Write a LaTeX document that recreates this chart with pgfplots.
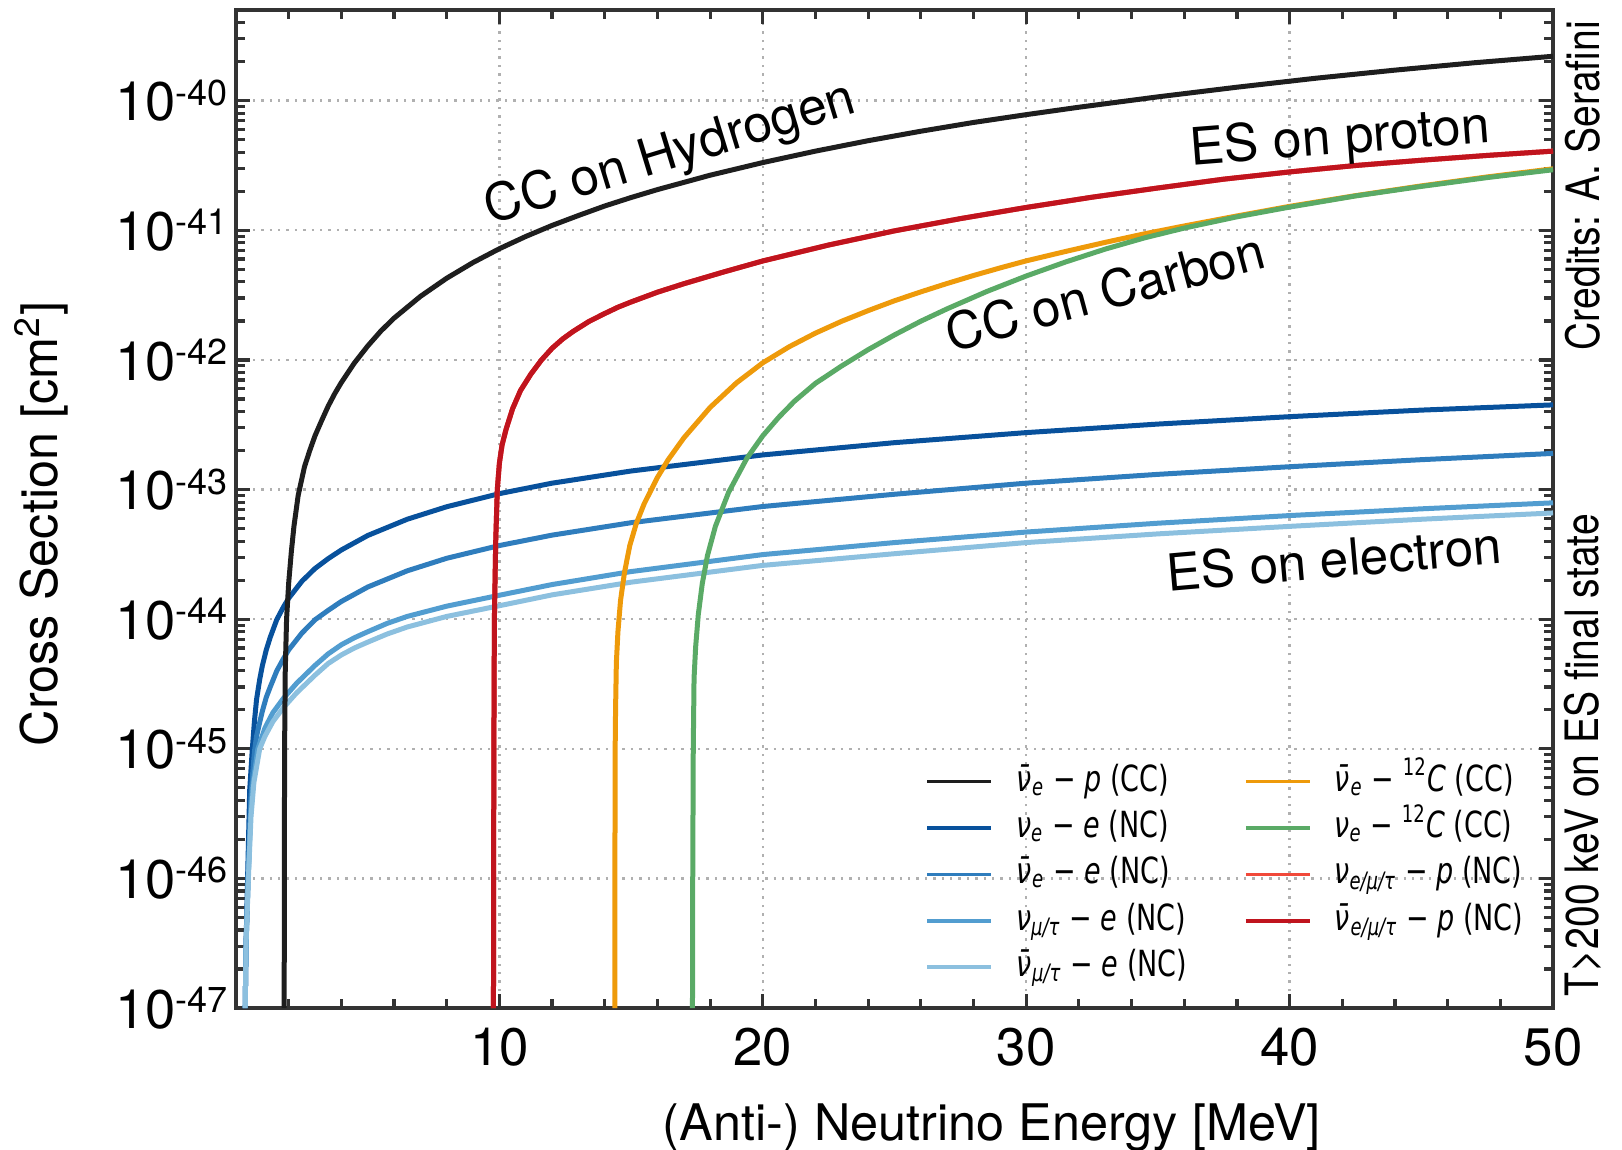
\documentclass[border=0pt]{standalone}
\usepackage{fontspec}
\setmainfont{TeX Gyre Heros}
\newfontfamily\djv{DejaVu Sans}
\usepackage{pgfplots}
\pgfplotsset{compat=1.18}

\definecolor{axgray}{HTML}{333333}
\definecolor{gridgray}{HTML}{B0B0B0}
\definecolor{cblack}{HTML}{1E1E1E}
\definecolor{bdark}{HTML}{08519C}
\definecolor{bmid}{HTML}{2F7DBD}
\definecolor{blight}{HTML}{529DD0}
\definecolor{blighter}{HTML}{8CC0DF}
\definecolor{corange}{HTML}{EE9A0A}
\definecolor{cgreen}{HTML}{5AAA66}
\definecolor{redlight}{HTML}{F1493A}
\definecolor{reddark}{HTML}{C0141E}

\newcommand{\tfont}{\fontsize{13.2}{15}\selectfont}
\newcommand{\xlab}[1]{\mbox{\tfont #1}}
\newcommand{\ylab}[1]{\mbox{\fontsize{13.6}{15}\selectfont 10\raisebox{3.9pt}{\fontsize{9}{10}\selectfont -#1}}}
\newcommand{\lgi}[1]{\textit{#1}}
\newcommand{\lgs}[1]{\scalebox{0.75}[1]{#1}}

\begin{document}
\begin{tikzpicture}
\begin{axis}[
  name=ax,
  scale only axis,
  width=329.25pt, height=249.5pt,
  clip mode=individual,
  xmin=0, xmax=50,
  ymode=log, ymin=1e-47, ymax=5e-40,
  xtick={10,20,30,40,50},
  xticklabels={\xlab{10},\xlab{20},\xlab{30},\xlab{40},\xlab{50}},
  minor xtick={2,4,6,8,12,14,16,18,22,24,26,28,32,34,36,38,42,44,46,48},
  ytick={1e-47,1e-46,1e-45,1e-44,1e-43,1e-42,1e-41,1e-40},
  yticklabels={\ylab{47},\ylab{46},\ylab{45},\ylab{44},\ylab{43},\ylab{42},\ylab{41},\ylab{40}},
  minor ytick={2e-47,3e-47,4e-47,5e-47,6e-47,7e-47,8e-47,9e-47,
               2e-46,3e-46,4e-46,5e-46,6e-46,7e-46,8e-46,9e-46,
               2e-45,3e-45,4e-45,5e-45,6e-45,7e-45,8e-45,9e-45,
               2e-44,3e-44,4e-44,5e-44,6e-44,7e-44,8e-44,9e-44,
               2e-43,3e-43,4e-43,5e-43,6e-43,7e-43,8e-43,9e-43,
               2e-42,3e-42,4e-42,5e-42,6e-42,7e-42,8e-42,9e-42,
               2e-41,3e-41,4e-41,5e-41,6e-41,7e-41,8e-41,9e-41,
               2e-40,3e-40,4e-40},
  tick align=inside,
  major tick length=3.6pt, minor tick length=2.3pt,
  every tick/.style={color=axgray, line width=0.8pt},
  axis line style={color=axgray, line width=1pt},
  xmajorgrids, ymajorgrids,
  major grid style={color=gridgray, line width=0.6pt, dash pattern=on 0.6pt off 1.5pt},
  tick label style={font=\tfont},
  xticklabel style={yshift=-1.5pt},
  yticklabel style={xshift=1.5pt},
  xlabel={(Anti-) Neutrino Energy [MeV]},
  ylabel={Cross Section [cm\textsuperscript{2}]},
  label style={font=\fontsize{12.6}{15}\selectfont},
  xlabel style={at={(axis description cs:0.574,0)}, anchor=center, yshift=-30pt},
  ylabel style={at={(axis description cs:0,0.485)}, anchor=center, yshift=48.7pt},
  legend columns=2,
  legend cell align=left,
  legend style={at={(0.52,0.255)}, anchor=north west, draw=none, fill=none,
    font=\djv\fontsize{9}{11}\selectfont,
    row sep=0pt, inner sep=1pt,
    nodes={text height=7pt, text depth=2.2pt, inner sep=1.2pt},
    /tikz/every odd column/.append style={column sep=4.5pt},
    /tikz/every even column/.append style={column sep=13pt}},
  legend image code/.code={\draw[#1, line width=0.9pt] (0pt,0pt) -- (16pt,0pt);},
  every axis plot/.append style={line width=1.25pt},
]
% nu e - e (NC)
\addplot[bdark, forget plot] coordinates {
(0.35,1e-47)(0.38,3e-47)(0.44,1e-46)(0.52,4.8e-46)(0.62,1e-45)(0.7,1.63e-45)(0.78,2.4e-45)
(0.9,3.43e-45)(1.0,4.37e-45)(1.15,5.8e-45)(1.3,7.25e-45)(1.55,9.95e-45)(1.8,1.24e-44)
(2,1.45e-44)(2.5,1.96e-44)(3,2.46e-44)(3.5,2.93e-44)(4,3.42e-44)(5,4.42e-44)(6.5,5.9e-44)
(8,7.37e-44)(10,9.3e-44)(12,1.12e-43)(15,1.39e-43)(20,1.85e-43)(25,2.3e-43)(30,2.75e-43)
(35,3.2e-43)(40,3.65e-43)(45,4.1e-43)(50,4.5e-43)};
% anti-nu e - e (NC)
\addplot[bmid, forget plot] coordinates {
(0.35,1e-47)(0.38,3e-47)(0.46,1e-46)(0.56,4e-46)(0.62,6e-46)(0.7,9.5e-46)(0.78,1.25e-45)
(0.9,1.6e-45)(1.0,1.95e-45)(1.15,2.5e-45)(1.3,3.0e-45)(1.55,4.0e-45)(1.8,4.95e-45)
(2,5.8e-45)(2.5,7.8e-45)(3,9.9e-45)(3.5,1.17e-44)(4,1.37e-44)(5,1.77e-44)(6.5,2.36e-44)
(8,2.95e-44)(10,3.7e-44)(12,4.45e-44)(15,5.55e-44)(20,7.4e-44)(25,9.2e-44)(30,1.12e-43)
(35,1.31e-43)(40,1.5e-43)(45,1.7e-43)(50,1.9e-43)};
% nu mu/tau - e (NC)
\addplot[blight, forget plot] coordinates {
(0.35,1e-47)(0.38,3e-47)(0.46,1e-46)(0.55,3e-46)(0.65,5.5e-46)(0.83,1e-45)(1.1,1.45e-45)
(1.4,1.9e-45)(1.8,2.45e-45)(2.3,3.2e-45)(3,4.4e-45)(3.5,5.4e-45)(4,6.35e-45)(4.5,7.2e-45)
(5,8.0e-45)(5.75,9.3e-45)(6.5,1.05e-44)(8,1.26e-44)(10,1.53e-44)(12,1.85e-44)(15,2.33e-44)
(20,3.15e-44)(25,3.9e-44)(30,4.7e-44)(35,5.5e-44)(40,6.3e-44)(45,7.1e-44)(50,7.9e-44)};
% anti-nu mu/tau - e (NC)
\addplot[blighter, forget plot] coordinates {
(0.35,1e-47)(0.38,3e-47)(0.47,1e-46)(0.57,3e-46)(0.68,5.5e-46)(0.9,1e-45)(1.1,1.25e-45)
(1.4,1.62e-45)(1.8,2.08e-45)(2.3,2.7e-45)(3,3.7e-45)(3.5,4.55e-45)(4,5.3e-45)(4.5,6.0e-45)
(5,6.65e-45)(5.75,7.7e-45)(6.5,8.7e-45)(8,1.05e-44)(10,1.27e-44)(12,1.54e-44)(15,1.93e-44)
(20,2.6e-44)(25,3.2e-44)(30,3.9e-44)(35,4.55e-44)(40,5.2e-44)(45,5.9e-44)(50,6.6e-44)};
% anti-nu e - p (CC)
\addplot[cblack, forget plot] coordinates {
(1.83,1e-47)(1.835,1e-46)(1.845,1e-45)(1.87,4e-45)(1.92,1e-44)(2.0,1.9e-44)(2.1,3.3e-44)
(2.2,5.2e-44)(2.36,9e-44)(2.6,1.5e-43)(2.8,2e-43)(3.0,2.6e-43)(3.25,3.4e-43)(3.5,4.4e-43)
(3.75,5.5e-43)(4.0,6.7e-43)(4.5,9.5e-43)(5,1.28e-42)(5.5,1.67e-42)(6,2.1e-42)(7,3.09e-42)
(8,4.27e-42)(9,5.64e-42)(10,7.21e-42)(11,8.96e-42)(12,1.09e-41)(13,1.3e-41)(14,1.54e-41)
(15,1.79e-41)(16,2.06e-41)(18,2.66e-41)(20,3.33e-41)(22,4.08e-41)(24,4.91e-41)(26,5.81e-41)
(28,6.79e-41)(30,7.8e-41)(32,8.9e-41)(35,1.07e-40)(38,1.27e-40)(41,1.49e-40)(44,1.72e-40)
(47,1.96e-40)(50,2.2e-40)};
% anti-nu e - 12C (CC)
\addplot[corange, forget plot] coordinates {
(14.38,1e-47)(14.385,1e-46)(14.395,1e-45)(14.41,2e-45)(14.44,4.6e-45)(14.5,8e-45)
(14.6,1.4e-44)(14.75,2.3e-44)(14.95,3.7e-44)(15.2,5.5e-44)(15.5,7.8e-44)(16,1.24e-43)
(16.4,1.69e-43)(17,2.5e-43)(18,4.3e-43)(19,6.65e-43)(20,9.5e-43)(21,1.263e-42)(22,1.61e-42)
(23,1.99e-42)(24,2.4e-42)(25,2.86e-42)(26,3.35e-42)(27,3.89e-42)(28,4.48e-42)(29,5.12e-42)
(30,5.81e-42)(31.5,6.87e-42)(33,8.07e-42)(34.5,9.4e-42)(36,1.08e-41)(38,1.29e-41)
(40,1.53e-41)(42.5,1.85e-41)(45,2.2e-41)(47.5,2.58e-41)(50,2.98e-41)};
% nu e - 12C (CC)
\addplot[cgreen, forget plot] coordinates {
(17.33,1e-47)(17.34,1e-46)(17.36,1e-45)(17.39,3.5e-45)(17.45,6.1e-45)(17.55,1.08e-44)
(17.7,1.87e-44)(17.9,3.1e-44)(18.2,5.2e-44)(18.7,9.5e-44)(19.4,1.75e-43)(20,2.6e-43)
(20.6,3.6e-43)(21.2,4.8e-43)(22,6.6e-43)(23,9e-43)(24,1.2e-42)(25,1.56e-42)(26,1.99e-42)
(27,2.48e-42)(28.5,3.37e-42)(30,4.44e-42)(31.5,5.7e-42)(33,7.16e-42)(34.5,8.75e-42)
(36,1.04e-41)(38,1.27e-41)(40,1.51e-41)(42.5,1.84e-41)(45,2.18e-41)(47.5,2.55e-41)(50,2.93e-41)};
% nu e/mu/tau - p (NC), lies under the antineutrino curve
\addplot[redlight, forget plot] coordinates {
(9.775,1e-47)(9.78,1e-46)(9.79,1e-45)(9.81,1e-44)(9.86,4e-44)(9.92,1e-43)(10,1.6e-43)
(10.1,2.2e-43)(10.25,2.9e-43)(10.5,4.2e-43)(10.8,5.8e-43)(11.2,7.8e-43)(11.6,1e-42)
(12,1.23e-42)(12.4,1.45e-42)(12.8,1.66e-42)(13.4,1.98e-42)(14,2.28e-42)(14.5,2.55e-42)
(15,2.8e-42)(16,3.33e-42)(17,3.87e-42)(18.5,4.76e-42)(20,5.8e-42)(22.5,7.7e-42)(25,9.9e-42)
(27.5,1.23e-41)(30,1.5e-41)(32.5,1.8e-41)(35,2.12e-41)(37.5,2.48e-41)(40,2.82e-41)
(42.5,3.16e-41)(45,3.47e-41)(47.5,3.78e-41)(50,4.08e-41)};
% anti-nu e/mu/tau - p (NC)
\addplot[reddark, forget plot] coordinates {
(9.775,1e-47)(9.78,1e-46)(9.79,1e-45)(9.81,1e-44)(9.86,4e-44)(9.92,1e-43)(10,1.6e-43)
(10.1,2.2e-43)(10.25,2.9e-43)(10.5,4.2e-43)(10.8,5.8e-43)(11.2,7.8e-43)(11.6,1e-42)
(12,1.23e-42)(12.4,1.45e-42)(12.8,1.66e-42)(13.4,1.98e-42)(14,2.28e-42)(14.5,2.55e-42)
(15,2.8e-42)(16,3.33e-42)(17,3.87e-42)(18.5,4.76e-42)(20,5.8e-42)(22.5,7.7e-42)(25,9.9e-42)
(27.5,1.23e-41)(30,1.5e-41)(32.5,1.8e-41)(35,2.12e-41)(37.5,2.48e-41)(40,2.82e-41)
(42.5,3.16e-41)(45,3.47e-41)(47.5,3.78e-41)(50,4.08e-41)};

% legend, row by row (two columns)
\addlegendimage{cblack}
\addlegendentry{\lgs{\lgi{ν̄}\textsubscript{\lgi{e}} − \lgi{p} (CC)}}
\addlegendimage{corange}
\addlegendentry{\lgs{\lgi{ν̄}\textsubscript{\lgi{e}} − \textsuperscript{12}\lgi{C} (CC)}}
\addlegendimage{bdark}
\addlegendentry{\lgs{\lgi{ν}\textsubscript{\lgi{e}} − \lgi{e} (NC)}}
\addlegendimage{cgreen}
\addlegendentry{\lgs{\lgi{ν}\textsubscript{\lgi{e}} − \textsuperscript{12}\lgi{C} (CC)}}
\addlegendimage{bmid}
\addlegendentry{\lgs{\lgi{ν̄}\textsubscript{\lgi{e}} − \lgi{e} (NC)}}
\addlegendimage{redlight}
\addlegendentry{\lgs{\lgi{ν}\textsubscript{\lgi{e/μ/τ}} − \lgi{p} (NC)}}
\addlegendimage{blight}
\addlegendentry{\lgs{\lgi{ν}\textsubscript{\lgi{μ/τ}} − \lgi{e} (NC)}}
\addlegendimage{reddark}
\addlegendentry{\lgs{\lgi{ν̄}\textsubscript{\lgi{e/μ/τ}} − \lgi{p} (NC)}}
\addlegendimage{blighter}
\addlegendentry{\lgs{\lgi{ν̄}\textsubscript{\lgi{μ/τ}} − \lgi{e} (NC)}}

% annotations
\node[rotate=17, font=\fontsize{12.9}{15}\selectfont] at (rel axis cs:0.3298,0.8545) {CC on Hydrogen};
\node[rotate=4.5, font=\fontsize{12.9}{15}\selectfont] at (rel axis cs:0.8383,0.8697) {ES on proton};
\node[rotate=15, font=\fontsize{12.8}{15}\selectfont] at (rel axis cs:0.6596,0.7177) {CC on Carbon};
\node[rotate=5, font=\fontsize{12.8}{15}\selectfont] at (rel axis cs:0.834,0.4503) {ES on electron};
\node[rotate=90, font=\fontsize{11.5}{14}\selectfont] at (rel axis cs:1.0228,0.824) {\scalebox{0.85}[1]{Credits: A. Serafini}};
\node[rotate=90, font=\fontsize{11.5}{14}\selectfont] at (rel axis cs:1.0228,0.2535) {\scalebox{0.85}[1]{T>200 keV on ES final state}};
\end{axis}
\pgfresetboundingbox
\path ([shift={(-59pt,-35.5pt)}]ax.south west) rectangle ([shift={(17.25pt,2.5pt)}]ax.north east);
\end{tikzpicture}
\end{document}
